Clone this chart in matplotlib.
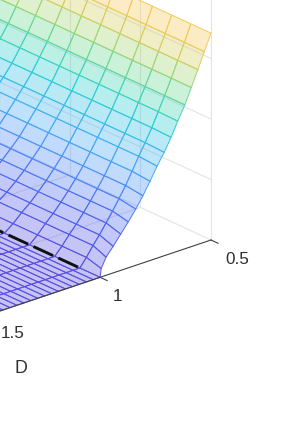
import numpy as np
import matplotlib
matplotlib.use('Agg')
import matplotlib.pyplot as plt
from matplotlib.colors import LinearSegmentedColormap
from mpl_toolkits.mplot3d import proj3d

plt.rcParams['font.family'] = ['Liberation Sans', 'DejaVu Sans']

#surface rows, D from 0.5 to 1, then the flat part up to 1.5
D_rows = [0.5, 0.529, 0.559, 0.588, 0.618, 0.647, 0.676, 0.706, 0.735, 0.765,
          0.794, 0.824, 0.853, 0.882, 0.912, 0.941, 0.971, 1.0]
D_edge = [0.5, 0.53, 0.559, 0.589, 0.618, 0.65, 0.68, 0.711, 0.743, 0.775,
          0.807, 0.839, 0.873, 0.907, 0.941, 0.973, 0.995, 1.0]
D_flat = [1.031, 1.062, 1.094, 1.125, 1.156, 1.188, 1.219, 1.25, 1.281, 1.312,
          1.344, 1.375, 1.406, 1.438, 1.469, 1.5]
Z_rows = [3.42, 3.15, 2.89, 2.63, 2.38, 2.15, 1.92, 1.71, 1.52, 1.31,
          1.11, 0.93, 0.76, 0.60, 0.44, 0.30, 0.14, 0.0]
#gap between columns in L units, first gap is a bit different
L_first_gap = 0.286
L_gap = [0.272, 0.272, 0.273, 0.275, 0.277, 0.28, 0.283, 0.287, 0.291, 0.296,
         0.301, 0.307, 0.313, 0.32, 0.328, 0.337, 0.346, 0.357]
n_cols = 13

D_ticks = [0.5, 1, 1.5]
D_ticklabels = ['0.5', '1', '1.5']
L_grid = [0, 1, 2]
Z_grid = [1, 2, 3, 4]

colour_stops = [(0.0, '#5a50e0'), (0.6, '#5068f0'), (1.1, '#5090ff'), (1.5, '#45b0f5'),
                (1.92, '#30c8e0'), (2.14, '#30d4c8'), (2.37, '#50d8a8'), (2.65, '#85d880'),
                (2.88, '#c0d268'), (3.15, '#e8cc58'), (3.42, '#ffc860')]

fig = plt.figure(figsize=(2.86, 4.23), dpi=100)
ax = fig.add_axes([0, 0, 423 / 286, 1], projection='3d', proj_type='ortho',
                  computed_zorder=False)
el, az = 23.2, 49.5
ax.view_init(elev=el, azim=az)
ax.set_xlim(0.5, 1.5)
ax.set_ylim(0, 3)
ax.set_zlim(0, 4)
ax.set_box_aspect((220 / np.sin(np.radians(az)), 210 / np.cos(np.radians(az)),
                   240 / np.cos(np.radians(el))))
ax.set_axis_off()
ax.patch.set_alpha(0)


def to_px(d, l, z):
    x, y, _ = proj3d.proj_transform(d, l, z, ax.get_proj())
    return ax.transData.transform((x, y))


#put the axes so that the floor corners land where they are in the picture
ax.apply_aspect()
p1 = to_px(0.5, 3, 0)
p2 = to_px(1.0, 3, 0)
scale = np.hypot(111, 37) / np.hypot(*(p2 - p1))
side = 423 * scale
ax.set_position([0, 0, side / 286, side / 423])
ax.apply_aspect()
p1 = to_px(0.5, 3, 0)
ax.set_position([(211 - p1[0]) / 286, ((423 - 240) - p1[1]) / 423, side / 286, side / 423])
ax.apply_aspect()

#build the grid
D_all = np.array(D_rows + D_flat)
Z_all = np.array(Z_rows + [0.0] * len(D_flat))
gaps = np.array(L_gap + [L_gap[-1]] * len(D_flat))
X = np.tile(D_all[:, None], (1, n_cols))
X[:len(D_edge), 0] = D_edge
Y = np.zeros_like(X)
Y[:, 0] = 3
Y[:, 1] = 3 - L_first_gap
for k in range(2, n_cols):
    Y[:, k] = Y[:, k - 1] - gaps
Z = np.tile(Z_all[:, None], (1, n_cols))

cmap = LinearSegmentedColormap.from_list('surf', [(z / 3.42, c) for z, c in colour_stops])
levels = (Z[:-1, :-1] + Z[1:, :-1]) / 2 / 3.42
edge = cmap(levels)
face = edge.copy()
face[..., 3] = 0.35

#back wall and floor grid
grid = '#e4e4e4'
for l in L_grid + [3]:
    ax.plot([0.5, 0.5], [l, l], [0, 4.2], color=grid, lw=0.8, zorder=1)
for z in Z_grid:
    ax.plot([0.5, 0.5], [0, 3], [z, z], color=grid, lw=0.8, zorder=1)
ax.plot([0.5, 0.5], [0, 3], [0, 0], color=grid, lw=0.8, zorder=1)
for l in L_grid:
    ax.plot([0.5, 1.5], [l, l], [0, 0], color=grid, lw=0.8, zorder=1)

surf = ax.plot_surface(X, Y, Z, facecolors=face, rstride=1, cstride=1, shade=False,
                       linewidth=0.7, zorder=2)
surf.set_edgecolor(edge.reshape(-1, 4))

#D axis with ticks
ax.plot([0.5, 1.5], [3, 3], [0, 0], color='#404040', lw=0.8, zorder=3)
for d in D_ticks:
    ax.plot([d, d], [3, 3.1], [0, 0], color='#404040', lw=0.8, zorder=3)

#dashed line on the surface at D=1
ax.plot([1, 1], [2.686, 1], [0, 0], color='#101018', lw=2.1,
        linestyle=(0, (7.4, 2.0)), zorder=4)

for lab, x, y in zip(D_ticklabels, [237, 118, 13], [260, 296, 333]):
    fig.text(x / 286, 1 - y / 423, lab, ha='center', va='center', fontsize=12.3, color='#303030')
fig.text(21 / 286, 1 - 368 / 423, 'D', ha='center', va='center', fontsize=12.8, color='#303030')

fig.savefig('out.png', dpi=100)
